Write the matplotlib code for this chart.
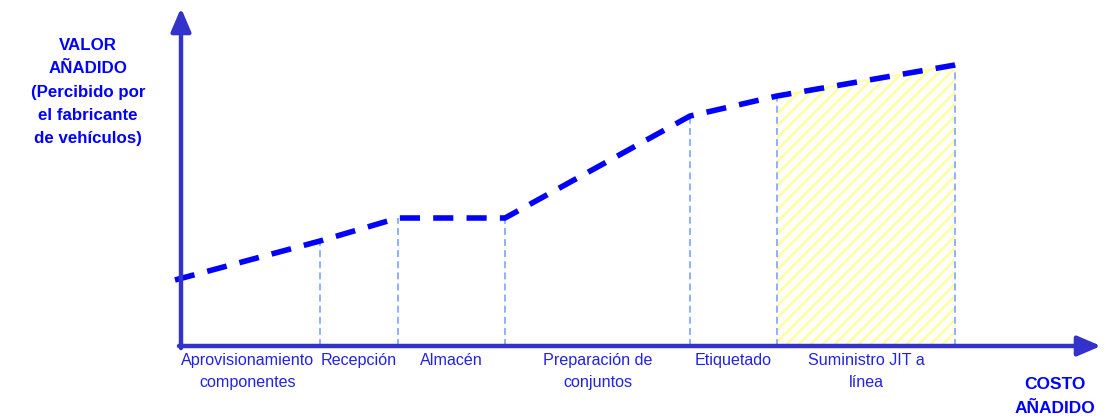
import numpy as np
import matplotlib
matplotlib.use("Agg")
import matplotlib.pyplot as plt
from matplotlib.patches import Polygon

plt.rcParams['font.family'] = ['Liberation Sans', 'DejaVu Sans']
plt.rcParams['lines.scale_dashes'] = False

# Stage boundaries along the cost axis and perceived value at each boundary
cost_points = [-0.6, 13.9, 21.7, 32.4, 50.9, 59.6, 77.4]
value_points = [6.6, 10.5, 12.8, 12.8, 23.0, 25.0, 28.1]
stages = ["Aprovisionamiento\ncomponentes", "Recepción", "Almacén",
          "Preparación de\nconjuntos", "Etiquetado", "Suministro JIT a\nlínea"]
highlight_stage = 5

axis_color = '#3333CC'
line_color = '#0000FF'
label_color = '#2222E6'
guide_color = '#6F9BFF'
hatch_color = '#FFFF9E'

fig = plt.figure(figsize=(11.06, 4.19), dpi=100)
ax = fig.add_axes([0, 0, 1, 1])
ax.set_xlim(-18.1, 92.5)
ax.set_ylim(-7.3, 34.6)
ax.axis('off')

x_end, y_end = 91.9, 33.6

# Hatched region under the last stage
x0, x1 = cost_points[highlight_stage], cost_points[highlight_stage + 1]
y0, y1 = value_points[highlight_stage], value_points[highlight_stage + 1]
poly = Polygon([(x0, 0), (x0, y0), (x1, y1), (x1, 0)], closed=True,
               facecolor='none', edgecolor='none')
ax.add_patch(poly)
spacing = 1.2
for k in np.arange(x0 - 40, x1 + 5, spacing):
    ln, = ax.plot([k, k + 40], [0, 40], color=hatch_color, lw=1.8, zorder=1)
    ln.set_clip_path(poly)
ax.plot([x0, x1], [y0, y1], color=hatch_color, lw=1.2, zorder=1)

# Vertical guides from each boundary down to the cost axis
for cx, cy in zip(cost_points[1:], value_points[1:]):
    ax.plot([cx, cx], [0, cy], color=guide_color, lw=1.1,
            dashes=(5, 3), zorder=2)

# Value curve
ax.plot(cost_points, value_points, color=line_color, lw=4.0,
        dashes=(14.5, 9.5), solid_capstyle='butt', dash_capstyle='butt', zorder=4)

# Axes with arrowheads
arrow_kw = dict(arrowstyle='-|>,head_length=1.4,head_width=0.6',
                color=axis_color, lw=3.2, shrinkA=0, shrinkB=0)
ax.annotate('', xy=(0, y_end + 0.2), xytext=(0, -0.2), arrowprops=arrow_kw, zorder=5)
ax.annotate('', xy=(x_end + 0.1, 0), xytext=(-0.2, 0), arrowprops=arrow_kw, zorder=5)

# Stage labels centered in each segment
for i, name in enumerate(stages):
    mid = (cost_points[i] + cost_points[i + 1]) / 2
    ax.text(mid, -0.7, name, ha='center', va='top', fontsize=11.6,
            color=label_color, linespacing=1.6)

# Axis titles
ax.text(-9.3, 25.4, "VALOR\nAÑADIDO\n(Percibido por\nel fabricante\nde vehículos)",
        ha='center', va='center', fontsize=12.2, fontweight='bold',
        color=line_color, linespacing=1.7)
ax.text(87.4, -5.05, "COSTO\nAÑADIDO", ha='center', va='center', fontsize=12.5,
        fontweight='bold', color=line_color, linespacing=1.7)

fig.savefig('out.png', dpi=100)
